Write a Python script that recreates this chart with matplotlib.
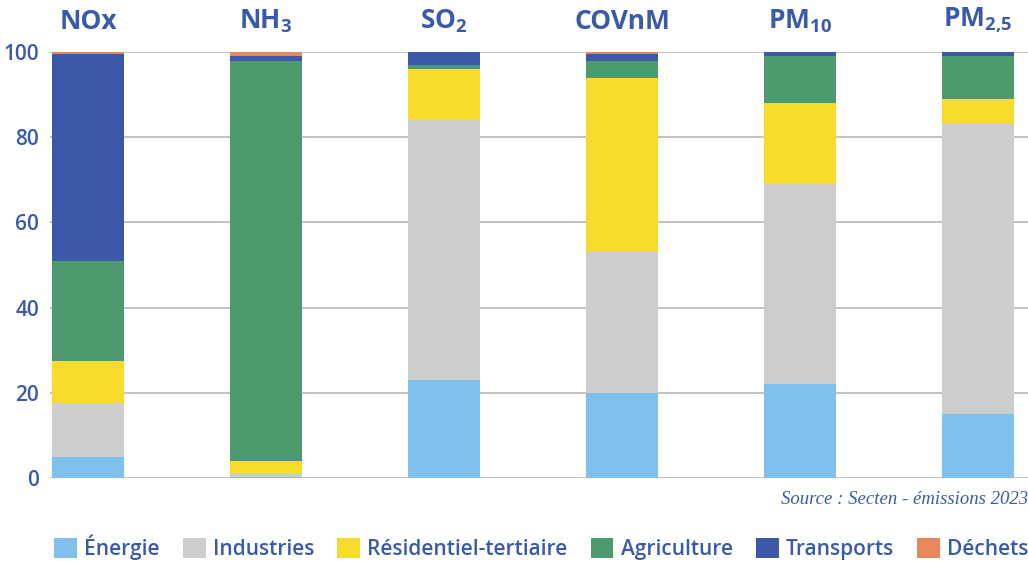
import numpy as np
import matplotlib.pyplot as plt
from matplotlib.patches import Patch

plt.rcParams['font.family'] = ['Open Sans', 'DejaVu Sans']
plt.rcParams['mathtext.fontset'] = 'custom'
plt.rcParams['mathtext.rm'] = 'Open Sans:bold'
plt.rcParams['mathtext.it'] = 'Open Sans:bold'
plt.rcParams['mathtext.bf'] = 'Open Sans:bold'
plt.rcParams['mathtext.default'] = 'rm'

# Polluants et parts (%) par secteur
polluants = ['NOx', 'NH$_3$', 'SO$_2$', 'COVnM', 'PM$_{10}$', 'PM$_{2{,}5}$']
secteurs = ['Énergie', 'Industries', 'Résidentiel-tertiaire', 'Agriculture', 'Transports', 'Déchets']
energie = [5, 0.2, 23, 20, 22, 15]
industries = [12.5, 0.8, 61, 33, 47, 68]
residentiel = [10, 3, 12, 41, 19, 6]
agriculture = [23.5, 94, 1, 4, 11, 10]
transports = [48.5, 1, 3, 1.5, 1, 1]
dechets = [0.5, 1, 0, 0.5, 0, 0]
couleurs = ['#80c0ec', '#cdcdcd', '#f8dc2c', '#4c9a6e', '#3c58a6', '#e8875c']

blue = '#3a5aa8'

fig = plt.figure(figsize=(10.28, 5.61), dpi=100)
ax = fig.add_axes([50 / 1028, 83 / 561, 978 / 1028, 426 / 561])

x = np.arange(len(polluants))
bottom = np.zeros(len(polluants))
for vals, c in zip([energie, industries, residentiel, agriculture, transports, dechets], couleurs):
    ax.bar(x, vals, width=0.404, bottom=bottom, color=c, zorder=2)
    bottom += np.array(vals)

ax.set_xlim(-38 / 178, 940 / 178)
ax.set_ylim(0, 100)
ax.set_yticks(range(0, 101, 20))
ax.yaxis.grid(True, color='#bdbdbd', linewidth=1.3, zorder=0)
ax.set_axisbelow(True)
for s in ax.spines.values():
    s.set_visible(False)
ax.set_xticks([])
ax.tick_params(axis='y', length=0, pad=8, labelsize=15, labelcolor=blue)
for lab in ax.get_yticklabels():
    lab.set_fontweight('semibold')

for xi, p in zip(x, polluants):
    ax.text(xi, 104, p, ha='center', va='bottom', fontsize=19, fontweight='bold',
            color=blue, clip_on=False)

fig.text(1.0, 1 - 500 / 561, 'Source : Secten - émissions 2023', ha='right', va='center',
         fontsize=13.5, style='italic', family='Liberation Serif', color=blue)

handles = [Patch(facecolor=c, label=s) for c, s in zip(couleurs, secteurs)]
leg = fig.legend(handles=handles, loc='center left', bbox_to_anchor=(54 / 1028, 1 - 547 / 561),
                 ncol=6, frameon=False, fontsize=15, handlelength=1.1, handleheight=1.1,
                 handletextpad=0.35, columnspacing=1.1, borderaxespad=0, borderpad=0)
for t in leg.get_texts():
    t.set_color(blue)
    t.set_fontweight('semibold')

fig.savefig('out.png', dpi=100)
